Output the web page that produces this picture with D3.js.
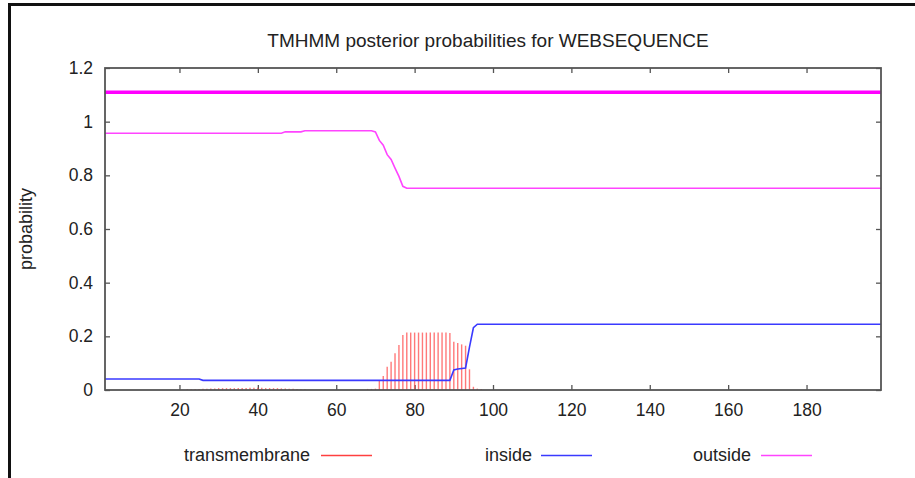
<!DOCTYPE html>
<meta charset="utf-8">
<style>

    body {
        margin: 0;
        background: #fff;
    }

    text {
        font-family: "Liberation Sans", Arial, sans-serif;
        fill: #222;
    }

    .axis text {
        font-size: 17.5px;
    }

    .axis line {
        stroke: #555;
        stroke-width: 1.3;
    }

    .axis path.domain {
        display: none;
    }

    path.inside {
        fill: none;
        stroke: #3a3aff;
        stroke-width: 1.6;
    }

    path.outside {
        fill: none;
        stroke: #ff44ff;
        stroke-width: 1.6;
    }

    path.topology {
        fill: none;
        stroke: #ff00ff;
        stroke-width: 3.5;
    }

    line.tm {
        stroke: #ff4040;
        stroke-opacity: 0.7;
        stroke-width: 1.4;
    }

</style>
<body>
<script src="https://cdn.jsdelivr.net/npm/d3@7"></script>
<script>

    // residue numbers and transmembrane posterior (impulses)
    var tmPos = [22, 23, 24, 25, 26, 27, 28, 29, 30, 31, 32, 33, 34, 35, 36, 37, 38, 39, 40, 41,
                 42, 43, 44, 45, 46, 47, 48, 49, 50, 51, 52,
                 68, 69, 70, 71, 72, 73, 74, 75, 76, 77, 78, 79, 80, 81, 82, 83, 84, 85, 86,
                 87, 88, 89, 90, 91, 92, 93, 94, 95, 96, 97];
    var tmProb = [0.003, 0.003, 0.004, 0.004, 0.005, 0.005, 0.006, 0.006, 0.007, 0.007, 0.007, 0.007, 0.007, 0.007, 0.007, 0.007,
                  0.008, 0.008, 0.008, 0.008, 0.007, 0.007, 0.007, 0.007, 0.006, 0.006, 0.005, 0.005, 0.004, 0.003, 0.003,
                  0.004, 0.004, 0.005, 0.034, 0.052, 0.087, 0.105, 0.137, 0.168, 0.205, 0.214, 0.214, 0.214, 0.214, 0.214,
                  0.214, 0.214, 0.214, 0.214, 0.214, 0.214, 0.212, 0.18, 0.175, 0.17, 0.165, 0.077, 0.012, 0.005, 0.004];

    // line vertices [residue, probability]
    var insidePts = [[1, 0.041], [25, 0.041], [26, 0.036], [89, 0.036], [90, 0.075], [91, 0.078],
                     [93, 0.082], [94, 0.16], [95, 0.232], [96, 0.245], [199, 0.245]];
    var outsidePts = [[1, 0.957], [46, 0.957], [47, 0.962], [51, 0.962], [52, 0.966], [69, 0.966],
                      [70, 0.962], [71, 0.93], [72, 0.912], [73, 0.877], [74, 0.859], [75, 0.827],
                      [76, 0.796], [77, 0.759], [78, 0.752], [199, 0.752]];
    // predicted topology bar drawn at 1.11
    var topologyPts = [[1, 1.11], [199, 1.11]];

    var xTicks = [20, 40, 60, 80, 100, 120, 140, 160, 180];
    var yTicks = [0, 0.2, 0.4, 0.6, 0.8, 1, 1.2];

    var legendItems = [
        {label: "transmembrane", color: "#ff4040", textEnd: 310, lineStart: 321},
        {label: "inside", color: "#3a3aff", textEnd: 532, lineStart: 541},
        {label: "outside", color: "#ff44ff", textEnd: 751, lineStart: 761}
    ];

    var margin = {top: 68, right: 34, bottom: 88, left: 105},
        width = 915 - margin.left - margin.right,
        height = 478 - margin.top - margin.bottom;

    var x = d3.scaleLinear()
            .domain([1, 199])
            .range([0, width]);

    var y = d3.scaleLinear()
            .domain([0, 1.2])
            .range([height, 0]);

    var line = d3.line()
            .x(function(d) { return x(d[0]); })
            .y(function(d) { return y(d[1]); });

    var svg = d3.select("body").append("svg")
            .attr("width", 915)
            .attr("height", 478);

    // outer image border (top and left only visible)
    svg.append("path")
            .attr("d", "M9.5,478V4.5H915")
            .attr("fill", "none")
            .attr("stroke", "#111")
            .attr("stroke-width", 3);

    svg.append("text")
            .attr("x", 488)
            .attr("y", 47)
            .attr("text-anchor", "middle")
            .style("font-size", "19px")
            .text("TMHMM posterior probabilities for WEBSEQUENCE");

    var g = svg.append("g")
            .attr("transform", "translate(" + margin.left + "," + margin.top + ")");

    // axes, ticks pointing inward, mirrored on top and right
    g.append("g")
            .attr("class", "x axis")
            .attr("transform", "translate(0," + height + ")")
            .call(d3.axisBottom(x).tickValues(xTicks).tickSize(-5).tickPadding(14));

    g.append("g")
            .attr("class", "x axis")
            .call(d3.axisTop(x).tickValues(xTicks).tickSize(-5).tickFormat(""));

    g.append("g")
            .attr("class", "y axis")
            .call(d3.axisLeft(y).tickValues(yTicks).tickSize(-5).tickPadding(12).tickFormat(d3.format("")));

    g.append("g")
            .attr("class", "y axis")
            .attr("transform", "translate(" + width + ",0)")
            .call(d3.axisRight(y).tickValues(yTicks).tickSize(-5).tickFormat(""));

    g.selectAll("line.tm")
            .data(tmPos)
        .enter().append("line")
            .attr("class", "tm")
            .attr("x1", function(d) { return x(d); })
            .attr("x2", function(d) { return x(d); })
            .attr("y1", y(0))
            .attr("y2", function(d, i) { return y(tmProb[i]); });

    g.append("path")
            .datum(insidePts)
            .attr("class", "inside")
            .attr("d", line);

    g.append("path")
            .datum(outsidePts)
            .attr("class", "outside")
            .attr("d", line);

    g.append("path")
            .datum(topologyPts)
            .attr("class", "topology")
            .attr("d", line);

    g.append("rect")
            .attr("width", width)
            .attr("height", height)
            .attr("fill", "none")
            .attr("stroke", "#555")
            .attr("stroke-width", 1.8);

    svg.append("text")
            .attr("transform", "translate(32," + (margin.top + height / 2) + ")rotate(-90)")
            .attr("text-anchor", "middle")
            .style("font-size", "18px")
            .text("probability");

    var legend = svg.selectAll("g.legend")
            .data(legendItems)
        .enter().append("g")
            .attr("class", "legend");

    legend.append("text")
            .attr("x", function(d) { return d.textEnd; })
            .attr("y", 461)
            .attr("text-anchor", "end")
            .style("font-size", "18px")
            .text(function(d) { return d.label; });

    legend.append("line")
            .attr("x1", function(d) { return d.lineStart; })
            .attr("x2", function(d) { return d.lineStart + 51; })
            .attr("y1", 455.5)
            .attr("y2", 455.5)
            .attr("stroke", function(d) { return d.color; })
            .attr("stroke-width", 1.6);

</script>
